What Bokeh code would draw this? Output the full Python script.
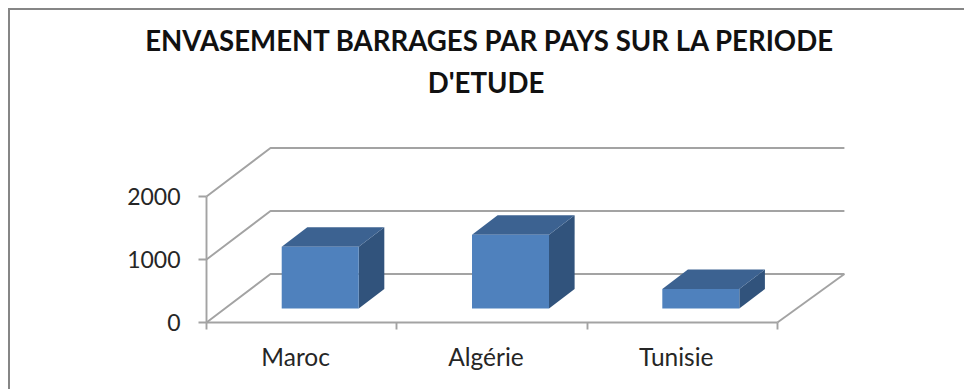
from bokeh.embed import file_html
from bokeh.resources import INLINE
from bokeh.plotting import figure
from bokeh.models import Range1d, FixedTicker, Label, LinearAxis

title_lines = ["ENVASEMENT BARRAGES PAR PAYS SUR LA PERIODE", "D'ETUDE"]
categories = ["Maroc", "Algérie", "Tunisie"]
values = [980, 1170, 310]
y_ticks = [0, 1000, 2000]

PX_X = 190.3      # px per category
PX_Y = 0.063      # px per value unit
DEPTH_X = 64 / PX_X
DEPTH_X_END = 67 / PX_X
DEPTH_Y = 48.5 / PX_Y
BAR_W = 77 / PX_X
D0, D1 = 0.29, 0.69
LABEL_SHIFT = -6 / PX_X
GRID = "#a3a3a3"
LW = 1.9
TEXT = "#262626"
FONT = "Lato"
n = len(categories)

LEFT_GAP = 106     # px of frame left of the value axis, so the title can sit inside the frame
BOTTOM_GAP = 12    # px of frame below zero, so the "0" label is not clipped
FW, FH = 640 + LEFT_GAP, 312 + BOTTOM_GAP
p = figure(width=956, height=381, output_backend="svg", toolbar_location=None,
           x_range=Range1d(-LEFT_GAP / PX_X, 640 / PX_X),
           y_range=Range1d(-BOTTOM_GAP / PX_Y, 312 / PX_Y),
           frame_width=FW, frame_height=FH, min_border_left=196 - LEFT_GAP, min_border_right=118,
           min_border_top=0, min_border_bottom=55, outline_line_color=None,
           background_fill_color="white", border_fill_color="white")
p.styles = {"box-sizing": "border-box", "margin-left": "8px", "margin-top": "8px",
            "border-left": "2px solid #868686", "border-top": "2px solid #868686"}
p.grid.visible = False

# walls
for t in y_ticks:
    p.line([0, DEPTH_X, n + DEPTH_X_END], [t, t + DEPTH_Y, t + DEPTH_Y], line_color=GRID, line_width=LW)
p.line([n, n + DEPTH_X_END], [0, DEPTH_Y], line_color=GRID, line_width=LW)

# bars
side_x, side_y, top_x, top_y, front_x, front_y = [], [], [], [], [], []
for i, v in enumerate(values):
    c = i + 0.5
    x0 = c - BAR_W / 2 + D0 * DEPTH_X
    x1 = x0 + BAR_W
    y0 = D0 * DEPTH_Y
    y1 = y0 + v
    dx = (D1 - D0) * DEPTH_X
    dy = (D1 - D0) * DEPTH_Y
    side_x.append([x1, x1 + dx, x1 + dx, x1]); side_y.append([y0, y0 + dy, y1 + dy, y1])
    top_x.append([x0, x1, x1 + dx, x0 + dx]); top_y.append([y1, y1, y1 + dy, y1 + dy])
    front_x.append([x0, x1, x1, x0]); front_y.append([y0, y0, y1, y1])
p.patches(side_x, side_y, fill_color="#31537c", line_color=None)
p.patches(top_x, top_y, fill_color="#3c6291", line_color=None)
p.patches(front_x, front_y, fill_color="#4f81bd", line_color=None)

# category labels: regular axis at the frame bottom, without line or ticks
xa = p.xaxis[0]
centers = [i + 0.5 + LABEL_SHIFT for i in range(n)]
xa.ticker = FixedTicker(ticks=centers)
xa.major_label_overrides = {c: s for c, s in zip(centers, categories)}
xa.axis_line_color = None
xa.major_tick_line_color = None
xa.minor_tick_line_color = None
xa.major_tick_out = 0
xa.major_tick_in = 0
xa.minor_tick_out = 0
xa.minor_tick_in = 0
xa.major_label_text_font = FONT
xa.major_label_text_font_size = "24.5px"
xa.major_label_text_color = TEXT
xa.major_label_standoff = 7

# category axis line and ticks, at value zero
xline = LinearAxis(fixed_location=0, ticker=FixedTicker(ticks=list(range(n + 1))), bounds=(0, n),
                   major_label_text_font_size="0px", major_label_standoff=0,
                   axis_line_color=GRID, axis_line_width=LW,
                   major_tick_line_color=GRID, major_tick_line_width=LW,
                   major_tick_out=7, major_tick_in=0, minor_tick_line_color=None)
xline.major_label_overrides = {i: "" for i in range(n + 1)}
p.add_layout(xline, "below")

ya = p.yaxis[0]
ya.fixed_location = 0
ya.ticker = FixedTicker(ticks=y_ticks)
ya.bounds = (0, y_ticks[-1])
ya.major_tick_line_color = GRID
ya.major_tick_line_width = LW
ya.major_tick_out = 8
ya.major_tick_in = 0
ya.minor_tick_line_color = None
ya.axis_line_color = GRID
ya.axis_line_width = LW
ya.major_label_text_font = FONT
ya.major_label_text_font_size = "23px"
ya.major_label_text_color = TEXT
ya.major_label_standoff = 18

# title: two centred lines, inside the frame
p.title = None
for line, cx_px, above_px in zip(title_lines, [283.5, 279.5], [282, 240]):
    p.add_layout(Label(x=cx_px / PX_X, y=above_px / PX_Y, text=line, text_align="center", text_baseline="middle",
                       text_font=FONT, text_font_size="27.6px", text_font_style="bold", text_color="#111111"))

open("out.html", "w").write(file_html(p, INLINE))
